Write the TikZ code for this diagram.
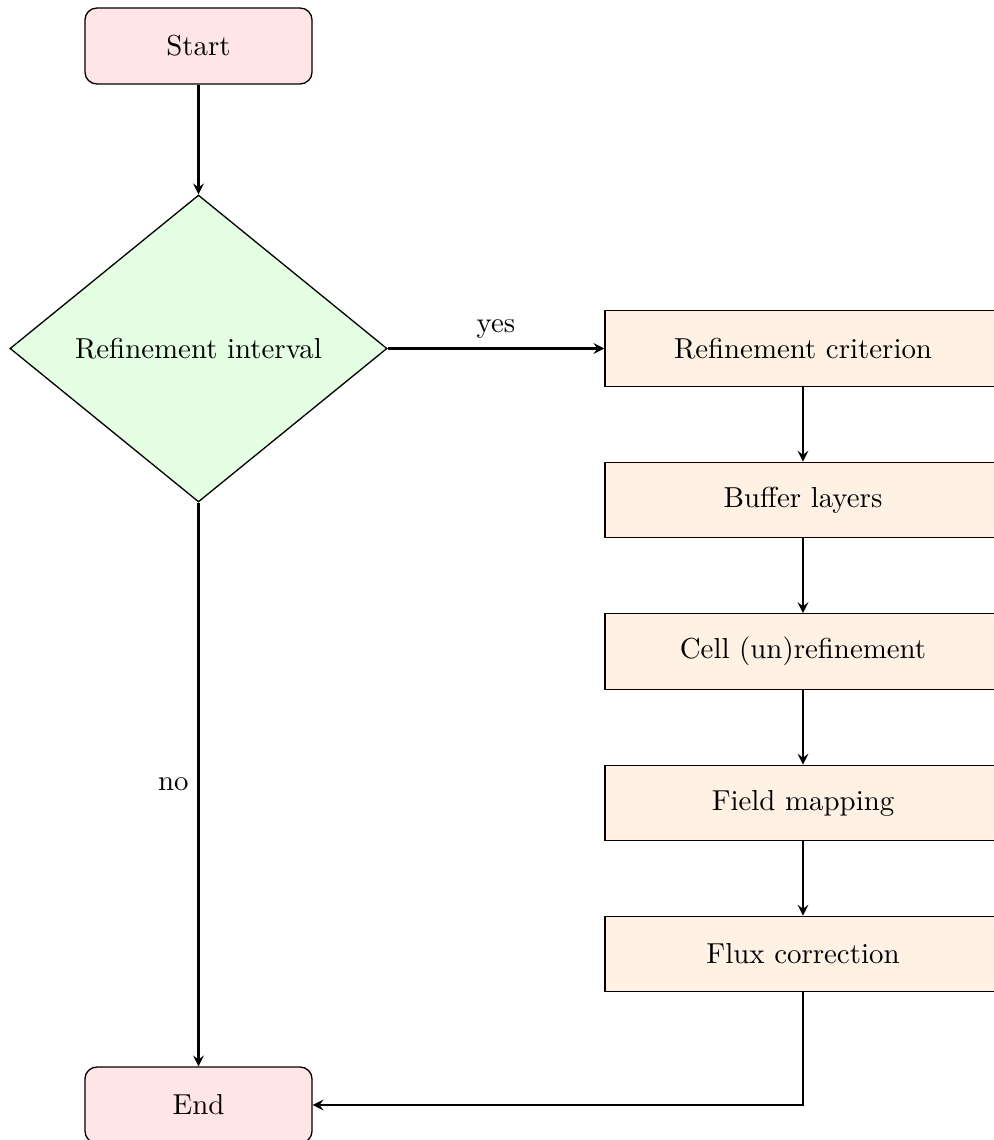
\documentclass[tikz,border=0pt]{standalone}
\usetikzlibrary{shapes.geometric,arrows.meta}
\begin{document}
\begin{tikzpicture}[x=0.37922pt,y=-0.37922pt,>=stealth,
  every node/.style={font=\fontsize{10.95}{13.6}\selectfont},
  term/.style={draw, line width=0.5pt, rounded corners=4.5pt, fill=red!10, minimum width=86.1pt, minimum height=28.8pt, inner sep=0pt},
  decis/.style={draw, line width=0.5pt, diamond, fill=green!10, minimum width=143pt, minimum height=116.4pt, inner sep=0pt},
  procbox/.style={draw, line width=0.5pt, fill=orange!10, minimum width=150.2pt, minimum height=28.6pt, inner sep=0pt},
  conn/.style={->, thick},
  lbl/.style={font=\fontsize{10.95}{13.6}\selectfont}]
\useasboundingbox (0,0) rectangle (993,1140);
\node[term] (start) at (198.5,46) {Start};
\node[decis] (dec) at (198.5,348.5) {Refinement interval};
\node[procbox] (b1) at (803,348.5) {Refinement criterion};
\node[procbox] (b2) at (803,500) {Buffer layers};
\node[procbox] (b3) at (803,651.5) {Cell (un)refinement};
\node[procbox] (b4) at (803,803) {Field mapping};
\node[procbox] (b5) at (803,954) {Flux correction};
\node[term] (end) at (198.5,1105) {End};
\draw[conn] (start) -- (dec);
\draw[conn] (dec) -- node[above, lbl] {yes} (b1);
\draw[conn] (dec) -- node[left, lbl] {no} (end);
\draw[conn] (b1) -- (b2);
\draw[conn] (b2) -- (b3);
\draw[conn] (b3) -- (b4);
\draw[conn] (b4) -- (b5);
\draw[conn] (b5) |- (end);
\end{tikzpicture}
\end{document}
